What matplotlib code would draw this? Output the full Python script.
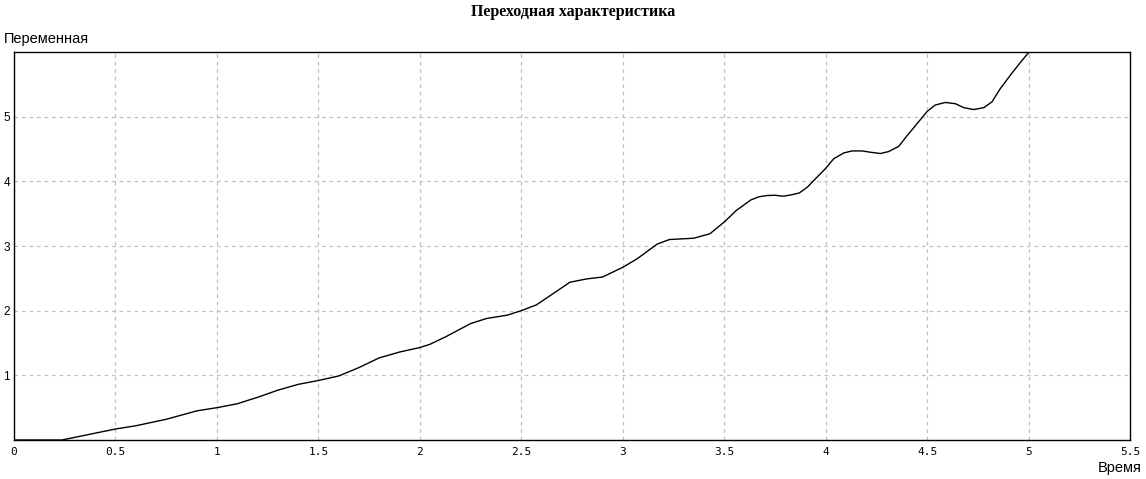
import matplotlib.pyplot as plt

# время (с) и значение переходной характеристики
t = [0, 0.236, 0.5, 0.6, 0.75, 0.9, 1.0, 1.1, 1.2, 1.3, 1.4, 1.5, 1.6, 1.7,
     1.8, 1.9, 2.0, 2.05, 2.13, 2.25, 2.33, 2.43, 2.5, 2.575, 2.66, 2.74,
     2.82, 2.9, 3.0, 3.07, 3.17, 3.23, 3.35, 3.43, 3.5, 3.56, 3.63, 3.67,
     3.71, 3.75, 3.79, 3.83, 3.87, 3.91, 3.95, 4.0, 4.04, 4.09, 4.13, 4.18,
     4.22, 4.27, 4.31, 4.36, 4.40, 4.45, 4.50, 4.54, 4.59, 4.64, 4.68, 4.73,
     4.78, 4.82, 4.86, 4.91, 4.96, 5.0]
h = [0, 0, 0.17, 0.22, 0.32, 0.45, 0.50, 0.56, 0.66, 0.77, 0.86, 0.92, 0.99,
     1.12, 1.27, 1.36, 1.43, 1.48, 1.60, 1.80, 1.88, 1.93, 2.0, 2.09, 2.27,
     2.44, 2.49, 2.52, 2.67, 2.80, 3.03, 3.10, 3.12, 3.19, 3.37, 3.55, 3.71,
     3.76, 3.78, 3.785, 3.77, 3.79, 3.82, 3.91, 4.04, 4.20, 4.35, 4.44, 4.47,
     4.47, 4.45, 4.43, 4.46, 4.54, 4.70, 4.89, 5.08, 5.18, 5.22, 5.20, 5.14,
     5.11, 5.14, 5.23, 5.43, 5.64, 5.84, 5.99]

xticks = [0, 0.5, 1, 1.5, 2, 2.5, 3, 3.5, 4, 4.5, 5, 5.5]
xlabels = ['0', '0.5', '1', '1.5', '2', '2.5', '3', '3.5', '4', '4.5', '5', '5.5']
yticks = [1, 2, 3, 4, 5]

W, H = 1146, 479
fig = plt.figure(figsize=(W / 100, H / 100), dpi=100)
ax = fig.add_axes([14 / W, (H - 440) / H, 1116 / W, 388 / H])

ax.plot(t, h, color='black', linewidth=1)
ax.set_xlim(0, 5.5)
ax.set_ylim(0, 6)

ax.set_xticks(xticks)
ax.set_xticklabels(xlabels, family='DejaVu Sans Mono', fontsize=8)
ax.set_yticks(yticks)
ax.set_yticklabels([str(v) for v in yticks], family='Liberation Sans', fontsize=8.5)
ax.tick_params(axis='x', length=0, pad=5)
ax.tick_params(axis='y', length=0, pad=3)

ax.grid(True, color='#c0c0c0', linestyle=(0, (3, 3)), linewidth=0.9)
for s in ax.spines.values():
    s.set_linewidth(1)
    s.set_color('black')

# подписи
fig.text(0.5, 1 - 12 / H, 'Переходная характеристика', ha='center', va='center',
         family='Liberation Serif', fontweight='bold', fontsize=11.5)
fig.text(4 / W, 1 - 39 / H, 'Переменная', ha='left', va='center',
         family='Liberation Sans', fontsize=10.5)
fig.text(1142 / W, 1 - 468 / H, 'Время', ha='right', va='center',
         family='Liberation Sans', fontsize=10.5)

fig.savefig('out.png', dpi=100)
